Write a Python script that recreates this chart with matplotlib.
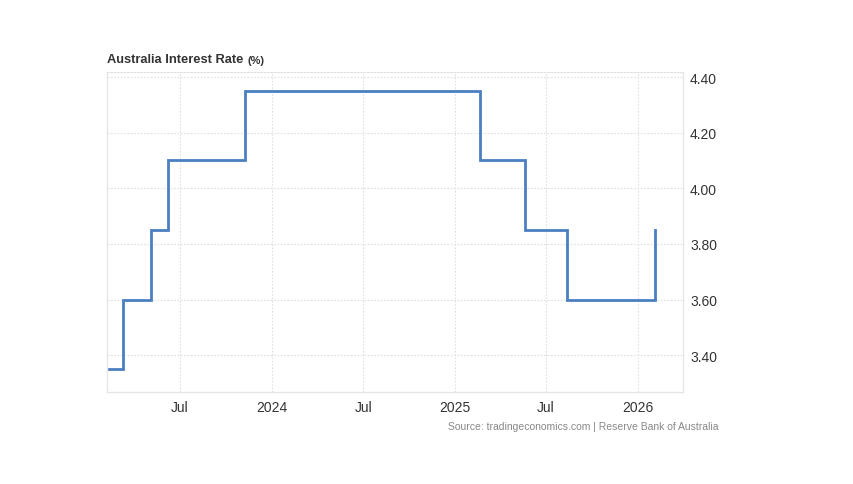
import pandas as pd
import matplotlib.pyplot as plt

plt.rcParams['font.family'] = ['Liberation Sans', 'DejaVu Sans']

# RBA cash rate decisions (date the new rate took effect)
dates = ["2023-02-07", "2023-03-08", "2023-05-03", "2023-06-07", "2023-11-08",
         "2025-02-19", "2025-05-21", "2025-08-13", "2026-02-04"]
rates = [3.35, 3.60, 3.85, 4.10, 4.35, 4.10, 3.85, 3.60, 3.85]
y_ticks = [3.40, 3.60, 3.80, 4.00, 4.20, 4.40]
x_ticks = ["2023-07-01", "2024-01-01", "2024-07-01", "2025-01-01", "2025-07-01", "2026-01-01"]
x_labels = ["Jul", "2024", "Jul", "2025", "Jul", "2026"]

dates = pd.to_datetime(dates)
grid_color = "#e0e0e0"

fig = plt.figure(figsize=(8.54, 4.85), dpi=100)
ax = fig.add_axes([107 / 854, 1 - 393 / 485, (683 - 107) / 854, (393 - 73) / 485])

ax.step(dates, rates, where="post", color="#4a7fc1", linewidth=2.0, solid_joinstyle="miter")

ax.set_xlim(pd.Timestamp("2023-02-05"), pd.Timestamp("2026-04-01"))
ax.set_ylim(3.268, 4.418)

ax.set_xticks(pd.to_datetime(x_ticks))
ax.set_xticklabels(x_labels)
ax.set_yticks(y_ticks)
ax.set_yticklabels([f"{v:.2f}" for v in y_ticks])
ax.yaxis.tick_right()
ax.tick_params(axis="both", length=0, labelsize=10, colors="#333333")
ax.tick_params(axis="x", pad=6)
ax.tick_params(axis="y", pad=5)

ax.grid(True, color=grid_color, linestyle=(0, (1.5, 1.5)), linewidth=0.8)
ax.set_axisbelow(True)

for side in ["left", "right", "bottom"]:
    ax.spines[side].set_color("#e6e6e6")
    ax.spines[side].set_linewidth(1.0)
ax.spines["top"].set_color(grid_color)
ax.spines["top"].set_linestyle((0, (1.5, 1.5)))
ax.spines["top"].set_linewidth(0.8)

title = fig.text(107 / 854, 1 - 60 / 485, "Australia Interest Rate", fontsize=9.3,
                 fontweight="bold", color="#333333", va="center", ha="left")
fig.canvas.draw()
bb = title.get_window_extent()
fig.text((bb.x1 + 4) / 854, 1 - 61 / 485, "(%)", fontsize=8, fontweight="bold",
         color="#333333", va="center", ha="left")
fig.text(719 / 854, 1 - 427 / 485, "Source: tradingeconomics.com | Reserve Bank of Australia",
         fontsize=7.5, color="#888888", ha="right", va="center")

fig.savefig("out.png", dpi=100)
